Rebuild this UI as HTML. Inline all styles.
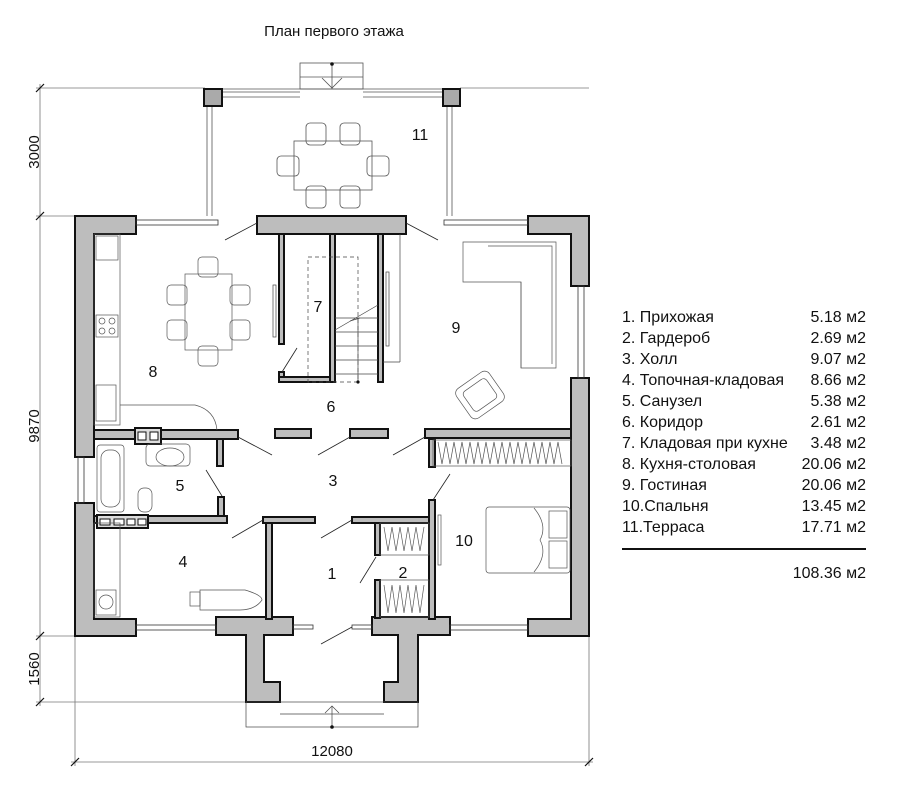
<!DOCTYPE html>
<html><head><meta charset="utf-8"><style>
html,body{margin:0;padding:0;background:#fff;}
svg{display:block;}
text{font-family:"Liberation Sans",sans-serif;fill:#111;}
</style></head><body>
<svg width="900" height="795" viewBox="0 0 900 795" xmlns="http://www.w3.org/2000/svg">
<rect width="900" height="795" fill="#fff"/>
<text x="334" y="36" font-size="15" text-anchor="middle">План первого этажа</text>

<!-- dimensions -->
<g stroke="#777" stroke-width="0.8" fill="none">
<line x1="40" y1="84" x2="40" y2="706"/>
<line x1="36" y1="88" x2="205" y2="88"/>
<line x1="36" y1="216" x2="75" y2="216"/>
<line x1="36" y1="636" x2="75" y2="636"/>
<line x1="36" y1="702" x2="246" y2="702"/>
<line x1="71" y1="762" x2="593" y2="762"/>
<line x1="75" y1="636" x2="75" y2="766"/>
<line x1="589" y1="636" x2="589" y2="766"/>
<line x1="460" y1="88" x2="589" y2="88"/>
</g>
<g stroke="#111" stroke-width="1.2">
<line x1="36" y1="92" x2="44" y2="84"/><line x1="36" y1="220" x2="44" y2="212"/>
<line x1="36" y1="640" x2="44" y2="632"/><line x1="36" y1="706" x2="44" y2="698"/>
<line x1="71" y1="766" x2="79" y2="758"/><line x1="585" y1="766" x2="593" y2="758"/>
</g>
<text transform="translate(39,152) rotate(-90)" font-size="15" text-anchor="middle">3000</text>
<text transform="translate(39,426) rotate(-90)" font-size="15" text-anchor="middle">9870</text>
<text transform="translate(39,669) rotate(-90)" font-size="15" text-anchor="middle">1560</text>
<text x="332" y="756" font-size="15" text-anchor="middle">12080</text>

<!-- terrace -->
<g stroke="#555" stroke-width="0.8" fill="none">
<rect x="300" y="63" width="63" height="26"/>
<line x1="300" y1="77" x2="363" y2="77"/>
<line x1="205" y1="89" x2="460" y2="89"/>
<line x1="222" y1="92" x2="300" y2="92"/><line x1="222" y1="97" x2="300" y2="97"/>
<line x1="363" y1="92" x2="443" y2="92"/><line x1="363" y1="97" x2="443" y2="97"/>
<line x1="207" y1="106" x2="207" y2="216"/><line x1="212" y1="106" x2="212" y2="216"/>
<line x1="447" y1="106" x2="447" y2="216"/><line x1="452" y1="106" x2="452" y2="216"/>
<line x1="332" y1="64" x2="332" y2="89"/>
<polyline points="322,78 332,88 342,78"/>
<rect x="294" y="141" width="78" height="49"/>
<rect x="306" y="123" width="20" height="22" rx="4"/><rect x="340" y="123" width="20" height="22" rx="4"/>
<rect x="306" y="186" width="20" height="22" rx="4"/><rect x="340" y="186" width="20" height="22" rx="4"/>
<rect x="277" y="156" width="22" height="20" rx="4"/><rect x="367" y="156" width="22" height="20" rx="4"/>
</g>
<circle cx="332" cy="64" r="1.8" fill="#111"/>
<rect x="204" y="89" width="18" height="17" fill="#aaa" stroke="#111" stroke-width="2"/>
<rect x="443" y="89" width="17" height="17" fill="#aaa" stroke="#111" stroke-width="2"/>
<text x="420" y="140" font-size="16" text-anchor="middle">11</text>

<!-- walls -->
<g fill="#bdbdbd" stroke="#111" stroke-width="2">
<path d="M75,216 H136 V234 H94 V457 H75 Z"/>
<path d="M75,503 H94 V619 H136 V636 H75 Z"/>
<rect x="257" y="216" width="149" height="18"/>
<path d="M528,216 H589 V286 H571 V234 H528 Z"/>
<path d="M571,378 H589 V636 H528 V619 H571 Z"/>
<path d="M216,617 H293 V635 H264 V682 H280 V702 H246 V635 H216 Z"/>
<path d="M372,617 H450 V635 H418 V702 H384 V682 H398 V635 H372 Z"/>
<rect x="94" y="430" width="144" height="9"/>
<rect x="275" y="429" width="36" height="9"/>
<rect x="350" y="429" width="38" height="9"/>
<rect x="425" y="429" width="146" height="9"/>
<rect x="135" y="428" width="26" height="16" fill="#ddd"/>
<rect x="217" y="439" width="6" height="27"/>
<rect x="218" y="497" width="6" height="22"/>
<rect x="94" y="516" width="133" height="7"/>
<rect x="97" y="515" width="51" height="13" fill="#ddd"/>
<rect x="263" y="517" width="52" height="6"/>
<rect x="266" y="523" width="6" height="96"/>
<rect x="352" y="517" width="81" height="6"/>
<rect x="429" y="500" width="6" height="119"/>
<rect x="429" y="439" width="6" height="28"/>
<rect x="375" y="523" width="5" height="32"/>
<rect x="375" y="580" width="5" height="38"/>
<rect x="279" y="234" width="5" height="110"/>
<rect x="279" y="372" width="5" height="10"/>
<rect x="279" y="377" width="56" height="5"/>
<rect x="330" y="234" width="5" height="148"/>
<rect x="378" y="234" width="5" height="148"/>
</g>
<g fill="#fff" stroke="#111" stroke-width="1">
<rect x="138" y="432" width="8" height="8"/><rect x="150" y="432" width="8" height="8"/>
<rect x="100" y="519" width="10" height="6"/><rect x="114" y="519" width="10" height="6"/><rect x="127" y="519" width="8" height="6"/><rect x="138" y="519" width="8" height="6"/>
</g>

<!-- windows -->
<g stroke="#333" stroke-width="0.8" fill="none">
<rect x="136" y="220" width="82" height="5"/><rect x="444" y="220" width="84" height="5"/>
<rect x="136" y="625" width="80" height="5"/><rect x="450" y="625" width="78" height="5"/>
<rect x="293" y="625" width="20" height="4"/><rect x="352" y="625" width="20" height="4"/>
<rect x="78" y="457" width="6" height="46"/><rect x="578" y="286" width="6" height="92"/>
</g>

<!-- door swings -->
<g stroke="#222" stroke-width="0.8">
<line x1="257" y1="223" x2="225" y2="240"/><line x1="406" y1="223" x2="438" y2="240"/>
<line x1="238" y1="437" x2="272" y2="455"/><line x1="350" y1="437" x2="318" y2="455"/>
<line x1="425" y1="437" x2="393" y2="455"/>
<line x1="222" y1="496" x2="206" y2="470"/>
<line x1="433" y1="500" x2="450" y2="474"/>
<line x1="263" y1="520" x2="232" y2="538"/><line x1="352" y1="520" x2="321" y2="538"/>
<line x1="376" y1="557" x2="360" y2="583"/>
<line x1="282" y1="372" x2="297" y2="348"/>
<line x1="352" y1="627" x2="321" y2="644"/>
</g>

<!-- stair -->
<g stroke="#444" stroke-width="0.7" fill="none">
<rect x="308" y="257" width="50" height="125" stroke-dasharray="4,3"/>
<line x1="335" y1="318" x2="378" y2="318"/><line x1="335" y1="332" x2="378" y2="332"/>
<line x1="335" y1="346" x2="378" y2="346"/><line x1="335" y1="360" x2="378" y2="360"/>
<line x1="335" y1="374" x2="378" y2="374"/><line x1="358" y1="318" x2="358" y2="382"/>
<line x1="335" y1="330" x2="378" y2="305"/><line x1="350" y1="321" x2="360" y2="318"/>
<rect x="273" y="285" width="3" height="52"/><rect x="386" y="272" width="3" height="74"/>
<line x1="400" y1="234" x2="400" y2="362"/><line x1="383" y1="362" x2="400" y2="362"/>
<rect x="246" y="702" width="172" height="25"/><line x1="280" y1="714" x2="384" y2="714"/>
<line x1="332" y1="727" x2="332" y2="706"/><polyline points="325,713 332,706 339,713"/>
</g>
<circle cx="358" cy="382" r="1.6" fill="#111"/><circle cx="332" cy="727" r="1.8" fill="#111"/>

<!-- furniture -->
<g stroke="#555" stroke-width="0.7" fill="none">
<path d="M463,242 H556 V368 H521 V282 H463 Z"/>
<path d="M488,246 H552 V364 M521,282 V368"/>
<g transform="translate(480,395) rotate(-35)"><rect x="-20" y="-18" width="40" height="36" rx="6"/><rect x="-14" y="-12" width="28" height="24" rx="4"/></g>
<rect x="94" y="234" width="26" height="191"/>
<rect x="96" y="236" width="22" height="24"/>
<rect x="96" y="315" width="22" height="22"/>
<circle cx="102" cy="321" r="3"/><circle cx="112" cy="321" r="3"/><circle cx="102" cy="331" r="3"/><circle cx="112" cy="331" r="3"/>
<rect x="96" y="385" width="20" height="36"/>
<path d="M120,405 H195 Q215,410 217,430"/>
<rect x="185" y="274" width="47" height="76"/>
<rect x="198" y="257" width="20" height="20" rx="4"/><rect x="198" y="346" width="20" height="20" rx="4"/>
<rect x="167" y="285" width="20" height="20" rx="4"/><rect x="167" y="320" width="20" height="20" rx="4"/>
<rect x="230" y="285" width="20" height="20" rx="4"/><rect x="230" y="320" width="20" height="20" rx="4"/>
<rect x="97" y="445" width="27" height="67" rx="3"/><rect x="101" y="450" width="19" height="57" rx="8"/>
<ellipse cx="170" cy="457" rx="14" ry="9"/><rect x="146" y="444" width="44" height="22" rx="4"/>
<rect x="138" y="488" width="14" height="24" rx="6"/>
<rect x="94" y="523" width="26" height="94"/>
<rect x="96" y="590" width="20" height="25"/><circle cx="106" cy="602" r="7"/>
<path d="M200,590 H245 Q262,595 262,600 Q255,610 240,610 H200 Z"/><rect x="190" y="592" width="10" height="14"/>
<rect x="433" y="440" width="138" height="26"/>
<path d="M438,442 l4,22 l4,-22 l4,22 l4,-22 l4,22 l4,-22 l4,22 l4,-22 l4,22 l4,-22 l4,22 l4,-22 l4,22 l4,-22 l4,22 l4,-22 l4,22 l4,-22 l4,22 l4,-22 l4,22 l4,-22 l4,22 l4,-22 l4,22 l4,-22 l4,22 l4,-22 l4,22 l4,-22 l4,22"/>
<rect x="380" y="523" width="49" height="32"/><rect x="380" y="580" width="49" height="37"/>
<path d="M384,527 l4,24 l4,-24 l4,24 l4,-24 l4,24 l4,-24 l4,24 l4,-24 l4,24 l4,-24"/>
<path d="M384,585 l4,28 l4,-28 l4,28 l4,-28 l4,28 l4,-28 l4,28 l4,-28 l4,28 l4,-28"/>
<rect x="486" y="507" width="84" height="66" rx="3"/>
<rect x="549" y="511" width="18" height="27"/><rect x="549" y="541" width="18" height="27"/>
<path d="M534,508 Q548,525 540,540 Q548,555 534,572"/>
<rect x="438" y="515" width="3" height="50"/>
</g>

<!-- room labels -->
<g font-size="16" text-anchor="middle">
<text x="332" y="579">1</text><text x="403" y="578">2</text><text x="333" y="486">3</text>
<text x="183" y="567">4</text><text x="180" y="491">5</text><text x="331" y="412">6</text>
<text x="318" y="312">7</text><text x="153" y="377">8</text><text x="456" y="333">9</text>
<text x="464" y="546">10</text>
</g>

<!-- legend -->
<g font-size="16">
<text x="622" y="322">1.  Прихожая</text>
<text x="622" y="343">2.  Гардероб</text>
<text x="622" y="364">3.  Холл</text>
<text x="622" y="385">4.  Топочная-кладовая</text>
<text x="622" y="406">5.  Санузел</text>
<text x="622" y="427">6.  Коридор</text>
<text x="622" y="448">7.  Кладовая при кухне</text>
<text x="622" y="469">8.  Кухня-столовая</text>
<text x="622" y="490">9.  Гостиная</text>
<text x="622" y="511">10.Спальня</text>
<text x="622" y="532">11.Терраса</text>
</g>
<g font-size="16" text-anchor="end">
<text x="866" y="322">5.18 м2</text><text x="866" y="343">2.69 м2</text><text x="866" y="364">9.07 м2</text>
<text x="866" y="385">8.66 м2</text><text x="866" y="406">5.38 м2</text><text x="866" y="427">2.61 м2</text>
<text x="866" y="448">3.48 м2</text><text x="866" y="469">20.06 м2</text><text x="866" y="490">20.06 м2</text>
<text x="866" y="511">13.45 м2</text><text x="866" y="532">17.71 м2</text>
<text x="866" y="578">108.36 м2</text>
</g>
<line x1="622" y1="549" x2="866" y2="549" stroke="#111" stroke-width="2"/>
</svg>
</body></html>
